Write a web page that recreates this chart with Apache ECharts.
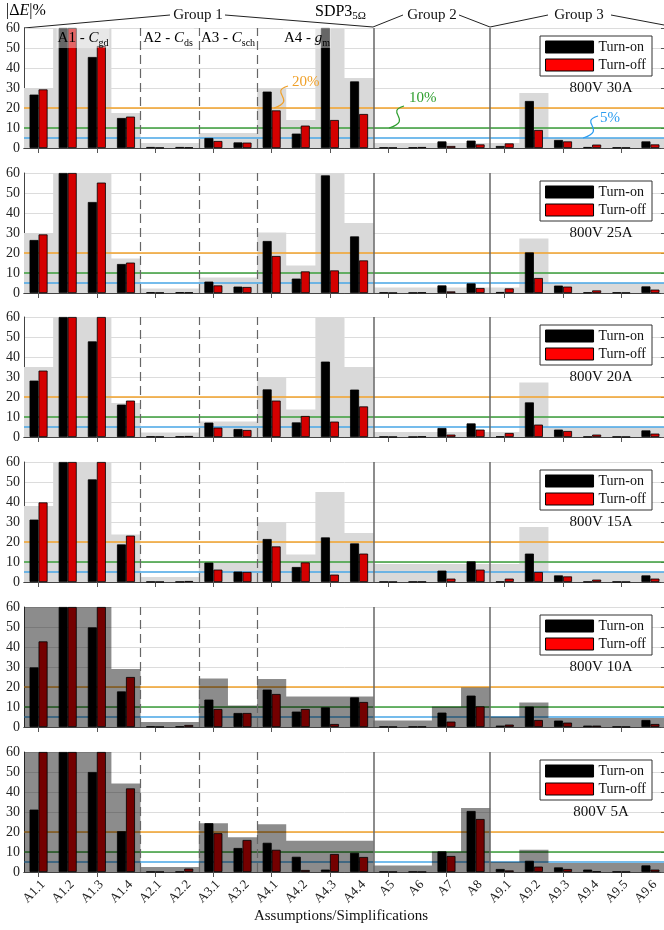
<!DOCTYPE html>
<html>
<head>
<meta charset="utf-8">
<script src="https://cdn.jsdelivr.net/npm/echarts@6/dist/echarts.min.js"></script>
<style>
  html, body { margin: 0; padding: 0; background: #fff; }
  #chart { width: 664px; height: 930px; }
</style>
</head>
<body>
<div id="chart"></div>
<script>
// categories (assumptions / simplifications)
const categories = ['A1.1','A1.2','A1.3','A1.4','A2.1','A2.2','A3.1','A3.2','A4.1','A4.2','A4.3','A4.4',
                    'A5','A6','A7','A8','A9.1','A9.2','A9.3','A9.4','A9.5','A9.6'];

// |dE| in %, one array per operating point
const turnOn30A  = [26.7, 60, 45.5, 15, 0.5, 0.5, 5, 2.8, 28.2, 7.2, 60, 33.3, 0.3, 0.3, 3.3, 3.7, 1, 23.5, 4, 0.5, 0.3, 3.3];
const turnOff30A = [29.3, 60, 51, 15.7, 0.2, 0.3, 3.5, 2.7, 18.8, 11.2, 14, 17, 0.2, 0.5, 1, 1.8, 2.3, 9, 3.3, 1.7, 0.2, 1.8];
const band30A    = [30, 60, 60, 17.5, 2.5, 2.5, 7.5, 7.5, 30, 14, 60, 35, 2.5, 2.5, 2.5, 2.5, 2.5, 27.5, 5, 5, 5, 5];

const turnOn25A  = [26.5, 60, 45.5, 14.5, 0.4, 0.4, 5.7, 3.2, 26, 7.2, 58.8, 28.3, 0.3, 0.2, 3.8, 4.8, 0.5, 20.3, 3.7, 0.3, 0.3, 3.3];
const turnOff25A = [29.3, 60, 55.2, 15.2, 0.2, 0.3, 3.8, 3, 18.5, 10.8, 11.3, 16.3, 0.1, 0.3, 0.8, 2.5, 2.3, 7.5, 3.2, 1.3, 0.2, 1.7];
const band25A    = [30, 60, 60, 17.2, 2.2, 2.2, 7.7, 7.7, 30.3, 13.7, 60, 35, 2.7, 2.7, 2.7, 2.7, 2.7, 27.3, 5, 5, 5, 5];

const turnOn20A  = [28.2, 60, 47.8, 16.2, 0.3, 0.3, 7.2, 4, 23.8, 7.3, 37.7, 23.7, 0.2, 0.1, 4.5, 6.8, 0.3, 17.3, 3.7, 0.2, 0.2, 3.3];
const turnOff20A = [33.2, 60, 60, 18.2, 0.2, 0.5, 4.7, 3.5, 18.2, 10.5, 7.7, 15.3, 0.1, 0.3, 1.2, 3.7, 2, 6.2, 3, 1.2, 0.1, 1.7];
const band20A    = [35, 60, 60, 17, 2.3, 2.3, 7.7, 7.7, 30, 13.7, 60, 35, 2.5, 2.5, 2.5, 2.5, 2.5, 27.3, 5, 5, 5, 5];

const turnOn15A  = [31.2, 60, 51.3, 18.8, 0.2, 0.2, 9.7, 5.2, 21.5, 7.5, 22.3, 19.3, 0.2, 0.2, 5.7, 10.3, 0.2, 14.2, 3.3, 0.2, 0.2, 3.3];
const turnOff15A = [39.8, 60, 60, 23.2, 0.1, 0.5, 6.2, 5, 17.8, 9.8, 3.7, 14.2, 0.1, 0.2, 1.7, 6.2, 1.7, 5, 2.8, 1.2, 0.1, 1.7];
const band15A    = [38, 60, 60, 23.8, 2.5, 2.5, 10, 10, 30, 13.8, 45, 24.5, 9, 9, 9, 9, 9, 27.5, 5, 5, 5, 5];

const turnOn10A  = [29.8, 60, 49.8, 17.8, 0.3, 0.3, 13.7, 7, 18.7, 7.7, 9.8, 14.8, 0.2, 0.2, 7.2, 15.7, 0.7, 10.2, 3.2, 0.7, 0.2, 3.5];
const turnOff10A = [42.8, 60, 60, 25, 0.1, 1, 9, 7, 16.5, 9, 1.5, 12.5, 0.1, 0.2, 2.7, 10.3, 1.2, 3.5, 2.2, 0.7, 0.1, 1.5];
const band10A    = [60, 60, 60, 29, 2.5, 2.5, 24.3, 10.8, 24, 15.3, 15.3, 15.3, 3.2, 3.2, 10.3, 19.7, 5.3, 12.2, 4.5, 4.5, 4.5, 4.5];

const turnOn5A   = [31.2, 60, 50, 20.4, 0.2, 0.2, 24.4, 12, 14.6, 7.6, 1.2, 9.6, 0.2, 0.2, 10.3, 30.5, 1.5, 5.6, 2.3, 1.2, 0.2, 3.3];
const turnOff5A  = [60, 60, 60, 41.8, 0.1, 1.7, 19.4, 16, 11.1, 1, 9, 7.5, 0.1, 0.1, 8, 26.5, 0.8, 2.7, 1.5, 0.3, 0.1, 1.2];
const band5A     = [60, 60, 60, 44.3, 2.5, 2.5, 24.4, 17.4, 23.9, 15.6, 15.6, 15.6, 3.2, 3.2, 10.3, 32, 5.1, 11.1, 4.5, 4.5, 4.5, 4.5];

const panelLabels = ['800V 30A', '800V 25A', '800V 20A', '800V 15A', '800V 10A', '800V 5A'];
const refLevels = [20, 10, 5];
const refColors = ['#f2a22a', '#3a9e3a', '#47a6e6'];
const dashedBounds = [4, 6, 8];   // category boundaries A1|A2, A2|A3, A3|A4
const solidBounds = [12, 16];     // A4|A5, A8|A9

const panels = [
  { label: panelLabels[0], on: turnOn30A, off: turnOff30A, band: band30A, dark: false },
  { label: panelLabels[1], on: turnOn25A, off: turnOff25A, band: band25A, dark: false },
  { label: panelLabels[2], on: turnOn20A, off: turnOff20A, band: band20A, dark: false },
  { label: panelLabels[3], on: turnOn15A, off: turnOff15A, band: band15A, dark: false },
  { label: panelLabels[4], on: turnOn10A, off: turnOff10A, band: band10A, dark: true },
  { label: panelLabels[5], on: turnOn5A,  off: turnOff5A,  band: band5A,  dark: true }
];

const FONT = 'Liberation Serif';
const tops = [28, 173, 317, 462, 607, 752];
const H = 120;

const chart = echarts.init(document.getElementById('chart'));

const grid = [], xAxis = [], yAxis = [], series = [], legend = [], graphic = [];

panels.forEach((p, i) => {
  const last = i === panels.length - 1;
  grid.push({ left: 24, right: -1, top: tops[i], height: H, containLabel: false, outerBoundsMode: 'none' });

  // bottom category axis (bars)
  xAxis.push({
    type: 'category', gridIndex: i, data: categories, boundaryGap: true,
    axisLine: { lineStyle: { color: '#444', width: 1 } },
    axisTick: { show: false },
    axisLabel: { show: last, rotate: 45, margin: 6, verticalAlign: 'top', fontFamily: FONT, fontSize: 13, color: '#222' }
  });
  // top category axis (ticks + border)
  xAxis.push({
    type: 'category', gridIndex: i, data: categories, position: 'top', boundaryGap: true,
    axisLine: { lineStyle: { color: '#444', width: 1 } },
    axisTick: { show: true, inside: true, alignWithLabel: true, length: 5, lineStyle: { color: '#555' } },
    axisLabel: { show: false }
  });
  // hidden value axis spanning category boundaries 0..22
  xAxis.push({ type: 'value', gridIndex: i, min: 0, max: categories.length, show: false });

  yAxis.push({
    type: 'value', gridIndex: i, min: 0, max: 60, interval: 10,
    axisLine: { show: true, lineStyle: { color: '#444' } },
    axisTick: { show: false },
    axisLabel: { margin: 4, fontFamily: FONT, fontSize: 14, color: '#222' },
    splitLine: { lineStyle: { color: '#dcdcdc', width: 1 } }
  });
  yAxis.push({
    type: 'value', gridIndex: i, min: 0, max: 60, interval: 10, position: 'right',
    axisLine: { show: false },
    axisTick: { show: true, inside: true, length: 4, lineStyle: { color: '#555' } },
    axisLabel: { show: false }, splitLine: { show: false }
  });

  const xCat = 3 * i, xVal = 3 * i + 2, yL = 2 * i;

  // shaded band (step area over category boundaries)
  const bandPts = p.band.map((v, k) => [k, v]);
  bandPts.push([categories.length, p.band[p.band.length - 1]]);
  series.push({
    type: 'line', xAxisIndex: xVal, yAxisIndex: yL, data: bandPts, step: 'end',
    symbol: 'none', silent: true, z: p.dark ? 4 : 1,
    lineStyle: { width: 0, opacity: 0 },
    areaStyle: { color: p.dark ? 'rgba(0,0,0,0.45)' : '#d9d9d9', opacity: 1 }
  });

  // reference levels 20 / 10 / 5 %
  series.push({
    type: 'line', xAxisIndex: xVal, yAxisIndex: yL, data: [], silent: true, z: 2,
    markLine: {
      silent: true, symbol: 'none', z: 2, label: { show: false }, animation: false,
      data: refLevels.map((v, k) => ({ yAxis: v, lineStyle: { color: refColors[k], width: 1.5, type: 'solid' } }))
    }
  });

  // group separators
  series.push({
    type: 'line', xAxisIndex: xVal, yAxisIndex: yL, data: [], silent: true, z: 5,
    markLine: {
      silent: true, symbol: 'none', z: 5, label: { show: false }, animation: false,
      data: dashedBounds.map(b => ({ xAxis: b, lineStyle: { color: '#666', width: 1.2, type: [9, 5] } }))
        .concat(solidBounds.map(b => ({ xAxis: b, lineStyle: { color: '#666', width: 1.5, type: 'solid' } })))
    }
  });

  series.push({
    name: 'Turn-on', type: 'bar', xAxisIndex: xCat, yAxisIndex: yL, data: p.on,
    barWidth: 9, barGap: '0%', z: 3,
    itemStyle: { color: '#000', borderColor: '#000', borderWidth: 0.8 }
  });
  series.push({
    name: 'Turn-off', type: 'bar', xAxisIndex: xCat, yAxisIndex: yL, data: p.off,
    barWidth: 9, barGap: '0%', z: 3,
    itemStyle: { color: '#d40000', borderColor: '#000', borderWidth: 0.8 }
  });

  legend.push({
    top: tops[i] + 8, right: 12, orient: 'vertical', icon: 'rect',
    itemWidth: 48, itemHeight: 12, itemGap: 4, padding: [4, 6, 4, 5],
    backgroundColor: '#fff', borderColor: '#333', borderWidth: 1, borderRadius: 0,
    selectedMode: false, z: 10,
    textStyle: { fontFamily: FONT, fontSize: 14, color: '#111' },
    data: [
      { name: 'Turn-on', itemStyle: { color: '#000', borderColor: '#000', borderWidth: 1 } },
      { name: 'Turn-off', itemStyle: { color: '#ff0000', borderColor: '#000', borderWidth: 1 } }
    ]
  });

  graphic.push({
    type: 'text', x: 601, y: tops[i] + 60, z: 10,
    style: { text: p.label, align: 'center', verticalAlign: 'middle', font: '15px "Liberation Serif"', fill: '#111' }
  });
});

// header
const lineStyle = { stroke: '#222', lineWidth: 1 };
graphic.push(
  { type: 'text', x: 6, y: 11, style: {
      text: '{n||Δ}{i|E}{n||%}', verticalAlign: 'middle',
      rich: { n: { fontFamily: FONT, fontSize: 16, color: '#111' },
              i: { fontFamily: FONT, fontSize: 16, fontStyle: 'italic', color: '#111' } } } },
  { type: 'text', x: 315, y: 12, style: {
      text: '{n|SDP3}{s|5Ω}', verticalAlign: 'middle',
      rich: { n: { fontFamily: FONT, fontSize: 16, color: '#111', lineHeight: 20 },
              s: { fontFamily: FONT, fontSize: 11, color: '#111', verticalAlign: 'bottom', lineHeight: 12 } } } },
  { type: 'text', x: 198, y: 15, style: { text: 'Group 1', align: 'center', verticalAlign: 'middle', font: '15px "Liberation Serif"', fill: '#111' } },
  { type: 'text', x: 432, y: 15, style: { text: 'Group 2', align: 'center', verticalAlign: 'middle', font: '15px "Liberation Serif"', fill: '#111' } },
  { type: 'text', x: 579, y: 15, style: { text: 'Group 3', align: 'center', verticalAlign: 'middle', font: '15px "Liberation Serif"', fill: '#111' } },
  { type: 'polyline', shape: { points: [[24, 28], [170, 15]] }, style: lineStyle },
  { type: 'polyline', shape: { points: [[225, 15], [373, 27], [403, 15]] }, style: lineStyle },
  { type: 'polyline', shape: { points: [[459, 15], [490, 27], [548, 15]] }, style: lineStyle },
  { type: 'polyline', shape: { points: [[611, 15], [664, 25]] }, style: lineStyle }
);

// group names inside first panel
const subRich = (col) => ({
  n: { fontFamily: FONT, fontSize: 15, color: col, lineHeight: 20 },
  i: { fontFamily: FONT, fontSize: 15, color: col, fontStyle: 'italic', lineHeight: 20 },
  s: { fontFamily: FONT, fontSize: 10, color: col, verticalAlign: 'bottom', lineHeight: 12 }
});
[['{n|A1 - }{i|C}{s|gd}', 83], ['{n|A2 - }{i|C}{s|ds}', 168], ['{n|A3 - }{i|C}{s|sch}', 228], ['{n|A4 - }{i|g}{s|m}', 307]]
  .forEach(([t, x]) => graphic.push({
    type: 'text', x: x, y: 38, z: 6,
    style: { text: t, align: 'center', verticalAlign: 'middle', rich: subRich('#555'),
             backgroundColor: 'rgba(255,255,255,0.4)', padding: [0, 1] }
  }));

// reference level annotations
const annots = [
  { t: '20%', c: '#f0a028', tx: 292, ty: 82, s: [288, 86, 268, 92, 298, 100, 274, 108] },
  { t: '10%', c: '#2e9e2e', tx: 409, ty: 98, s: [404, 106, 384, 112, 414, 120, 389, 128] },
  { t: '5%',  c: '#2a9cf0', tx: 600, ty: 118, s: [598, 116, 578, 122, 608, 130, 583, 138] }
];
annots.forEach(a => {
  graphic.push({ type: 'text', x: a.tx, y: a.ty, z: 6,
    style: { text: a.t, verticalAlign: 'middle', font: '15px "Liberation Serif"', fill: a.c } });
  graphic.push({ type: 'bezierCurve', z: 6,
    shape: { x1: a.s[0], y1: a.s[1], cpx1: a.s[2], cpy1: a.s[3], cpx2: a.s[4], cpy2: a.s[5], x2: a.s[6], y2: a.s[7] },
    style: { stroke: a.c, lineWidth: 1.2, fill: null } });
});

graphic.push({ type: 'text', x: 341, y: 916,
  style: { text: 'Assumptions/Simplifications', align: 'center', verticalAlign: 'middle', font: '15px "Liberation Serif"', fill: '#111' } });

chart.setOption({
  animation: false,
  backgroundColor: '#fff',
  textStyle: { fontFamily: FONT },
  grid, xAxis, yAxis, series, legend, graphic
});
</script>
</body>
</html>
